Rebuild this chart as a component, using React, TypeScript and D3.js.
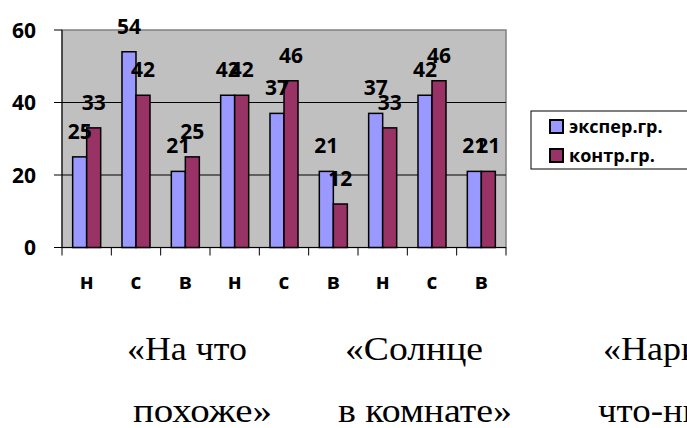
import React from "react";
import * as d3 from "d3";

const categories = ["н", "с", "в", "н", "с", "в", "н", "с", "в"];
const seriesNames = ["экспер.гр.", "контр.гр."];
const expValues = [25, 54, 21, 42, 37, 21, 37, 42, 21];
const ctrlValues = [33, 42, 25, 42, 46, 12, 33, 46, 21];
const yTicks = [0, 20, 40, 60];
const captionsTop = ["«На что", "«Солнце", "«Нарисуй"];
const captionsBottom = ["похоже»", "в комнате»", "что-нибудь»"];

const W = 687;
const H = 428;
const plot = { left: 62, right: 506, top: 30, bottom: 247.5 };
const colors = ["#9999ff", "#993366"];
const sans = "'Open Sans', 'Noto Sans', sans-serif";
const serif = "'Liberation Serif', 'Times New Roman', serif";

export default function App() {
  const x = d3
    .scaleBand<number>()
    .domain(d3.range(categories.length))
    .range([plot.left, plot.right])
    .paddingInner(0.432)
    .paddingOuter(0.216);
  const step = x.step();
  const sub = d3.scaleBand<number>().domain([0, 1]).range([0, x.bandwidth()]);
  const y = d3.scaleLinear().domain([0, 60]).range([plot.bottom, plot.top]);
  const series = [expValues, ctrlValues];

  const topCap = [
    { x: 127, len: 120 },
    { x: 345, len: 138 },
    { x: 603, len: 150 },
  ];
  const botCap = [
    { x: 133, len: 139 },
    { x: 338, len: 174 },
    { x: 598, len: 192 },
  ];

  return (
    <svg
      width={W}
      height={H}
      style={{ position: "absolute", left: 0, top: 0, background: "#fff" }}
    >
      <rect
        x={plot.left}
        y={plot.top}
        width={plot.right - plot.left}
        height={plot.bottom - plot.top}
        fill="#c0c0c0"
        stroke="#808080"
        strokeWidth={1.5}
      />
      {yTicks
        .filter((t) => t > 0 && t < 60)
        .map((t) => (
          <line
            key={"g" + t}
            x1={plot.left}
            x2={plot.right}
            y1={y(t)}
            y2={y(t)}
            stroke="#000"
            strokeWidth={1}
          />
        ))}
      <line x1={plot.left} x2={plot.left} y1={plot.top} y2={plot.bottom} stroke="#000" strokeWidth={1} />
      <line x1={plot.left} x2={plot.right} y1={plot.bottom} y2={plot.bottom} stroke="#000" strokeWidth={1} />
      {yTicks.map((t) => (
        <g key={"yt" + t}>
          <line x1={plot.left - 8} x2={plot.left} y1={y(t)} y2={y(t)} stroke="#000" strokeWidth={1} />
          <text
            x={36}
            y={y(t) + 7.8}
            textAnchor="end"
            fontFamily={sans}
            fontWeight="bold"
            fontSize={21}
            fill="#000"
          >
            {t}
          </text>
        </g>
      ))}
      {d3.range(categories.length + 1).map((i) => (
        <line
          key={"xt" + i}
          x1={plot.left + i * step}
          x2={plot.left + i * step}
          y1={plot.bottom}
          y2={plot.bottom + 8}
          stroke="#000"
          strokeWidth={1}
        />
      ))}
      {categories.map((c, i) => (
        <text
          key={"c" + i}
          x={(x(i) as number) + x.bandwidth() / 2}
          y={289}
          textAnchor="middle"
          fontFamily={sans}
          fontWeight="bold"
          fontSize={21}
          fill="#000"
        >
          {c}
        </text>
      ))}
      {series.map((vals, s) =>
        vals.map((v, i) => (
          <rect
            key={"b" + s + "-" + i}
            x={(x(i) as number) + (sub(s) as number)}
            y={y(v)}
            width={sub.bandwidth()}
            height={plot.bottom - y(v)}
            fill={colors[s]}
            stroke="#000"
            strokeWidth={1.5}
          />
        ))
      )}
      {series.map((vals, s) =>
        vals.map((v, i) => (
          <text
            key={"l" + s + "-" + i}
            x={(x(i) as number) + (sub(s) as number) + sub.bandwidth() / 2}
            y={y(v) - 18}
            textAnchor="middle"
            fontFamily={sans}
            fontWeight="bold"
            fontSize={21}
            fill="#000"
          >
            {v}
          </text>
        ))
      )}
      <rect x={531} y={111} width={160} height={58} fill="#fff" stroke="#000" strokeWidth={1} />
      {seriesNames.map((n, s) => (
        <g key={"lg" + s}>
          <rect
            x={550}
            y={120 + s * 29}
            width={13}
            height={13}
            fill={colors[s]}
            stroke="#000"
            strokeWidth={2}
          />
          <text
            x={569}
            y={133 + s * 29}
            fontFamily={sans}
            fontWeight="bold"
            fontSize={18}
            fill="#000"
          >
            {n}
          </text>
        </g>
      ))}
      {captionsTop.map((t, i) => (
        <text
          key={"ct" + i}
          x={topCap[i].x}
          y={360}
          fontFamily={serif}
          fontSize={34}
          fill="#000"
          textLength={topCap[i].len}
          lengthAdjust="spacingAndGlyphs"
        >
          {t}
        </text>
      ))}
      {captionsBottom.map((t, i) => (
        <text
          key={"cb" + i}
          x={botCap[i].x}
          y={422}
          fontFamily={serif}
          fontSize={34}
          fill="#000"
          textLength={botCap[i].len}
          lengthAdjust="spacingAndGlyphs"
        >
          {t}
        </text>
      ))}
    </svg>
  );
}
